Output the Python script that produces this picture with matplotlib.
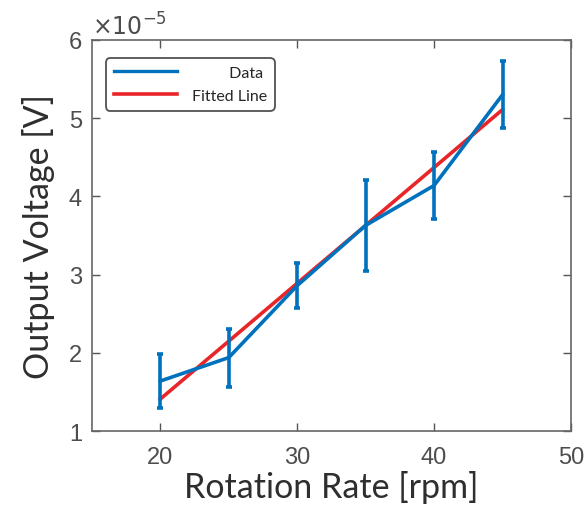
import numpy as np
import matplotlib.pyplot as plt

# measured data (rpm vs output voltage)
rpm = [20, 25, 30, 35, 40, 45]
volt = [1.64e-5, 1.94e-5, 2.86e-5, 3.63e-5, 4.14e-5, 5.30e-5]
err = [0.35e-5, 0.37e-5, 0.29e-5, 0.58e-5, 0.43e-5, 0.43e-5]

# fitted line end points
fit_x = [20, 45]
fit_y = [1.41e-5, 5.11e-5]

plt.rcParams['mathtext.fontset'] = 'custom'
plt.rcParams['mathtext.rm'] = 'Liberation Sans'

fig = plt.figure(figsize=(5.85, 5.06), dpi=100)
ax = fig.add_axes([0.157, 0.146, 0.819, 0.773])

eb = ax.errorbar(rpm, volt, yerr=err, color='#0072BD', lw=2.6, elinewidth=2.6,
                 capsize=2.5, capthick=2.6, zorder=3)
fl, = ax.plot(fit_x, fit_y, color='#E8262A', lw=2.6, zorder=2)

ax.set_xlim(15, 50)
ax.set_ylim(1e-5, 6e-5)
ax.set_xticks([20, 30, 40, 50])
ax.set_yticks(np.array([1, 2, 3, 4, 5, 6]) * 1e-5)
ax.set_yticklabels(['1', '2', '3', '4', '5', '6'])

ax.tick_params(direction='in', top=True, right=True, length=6, width=1,
               colors='#555555', labelsize=17, pad=7)
ax.tick_params(axis='x', pad=11)
for lab in ax.get_xticklabels() + ax.get_yticklabels():
    lab.set_family('Liberation Sans')
    lab.set_color('#4d4d4d')
for s in ax.spines.values():
    s.set_color('#666666')
    s.set_linewidth(1.2)

ax.set_xlabel('Rotation Rate [rpm]', fontsize=24.5, family='Lato',
              color='#2e2e2e', labelpad=1)
ax.set_ylabel('Output Voltage [V]', fontsize=24.5, family='Lato',
              color='#2e2e2e', labelpad=10)

ax.text(0.0, 1.0, r'$\mathregular{\times10^{-5}}$', transform=ax.transAxes, fontsize=17,
        color='#4d4d4d', va='bottom', ha='left')

handle = plt.Line2D([], [], color='#0072BD', lw=2.4)
leg = ax.legend([handle, fl], ['         Data', 'Fitted Line'], loc='upper left',
                frameon=True, fancybox=True, edgecolor='#262626', handlelength=4.0,
                borderpad=0.5, labelspacing=0.55, handletextpad=0.9,
                bbox_to_anchor=(0.012, 0.975), prop={'family': 'Lato', 'size': 11.5})
leg.get_frame().set_linewidth(1.3)
leg.get_frame().set_boxstyle('round', pad=0, rounding_size=0.3)
for t in leg.get_texts():
    t.set_color('#262626')

fig.savefig('out.png', dpi=100)
